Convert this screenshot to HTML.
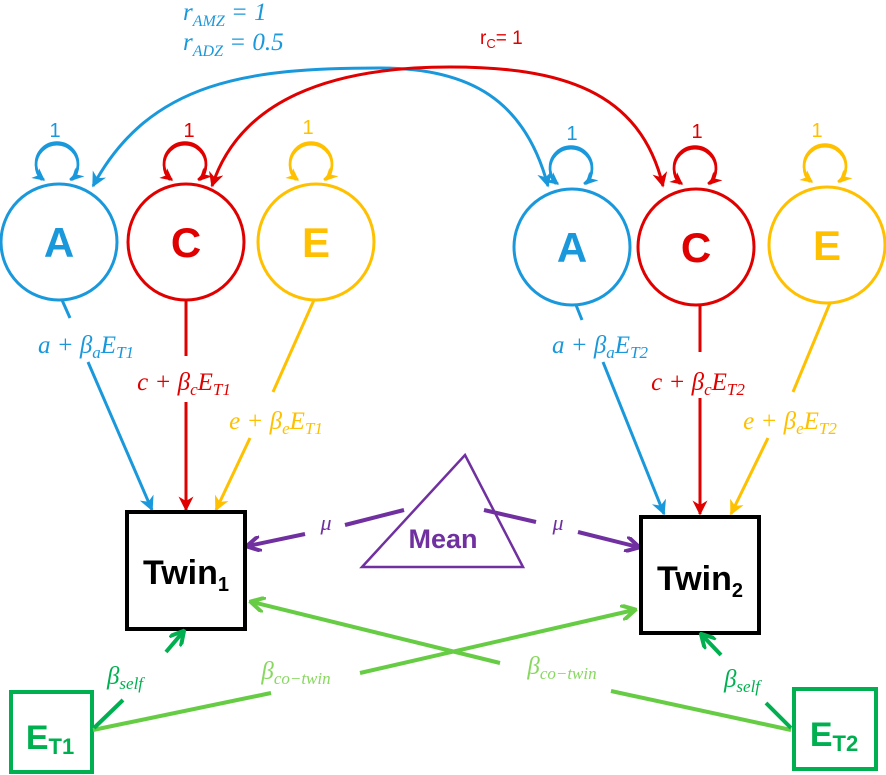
<!DOCTYPE html>
<html><head><meta charset="utf-8"><style>body{margin:0;background:#fff}svg{display:block}</style></head><body>
<svg width="886" height="775" viewBox="0 0 886 775" xmlns="http://www.w3.org/2000/svg">
<defs>
<marker id="mb" viewBox="0 0 10 10" refX="9" refY="5" markerWidth="5" markerHeight="5" orient="auto-start-reverse"><path d="M0,0 L10,5 L0,10 L3,5z" fill="#1a98dc"/></marker>
<marker id="mr" viewBox="0 0 10 10" refX="9" refY="5" markerWidth="5" markerHeight="5" orient="auto-start-reverse"><path d="M0,0 L10,5 L0,10 L3,5z" fill="#e00000"/></marker>
<marker id="my" viewBox="0 0 10 10" refX="9" refY="5" markerWidth="5" markerHeight="5" orient="auto"><path d="M0,0 L10,5 L0,10 L3,5z" fill="#ffc000"/></marker>
<marker id="op" viewBox="0 0 10 10" refX="8" refY="5" markerWidth="4" markerHeight="4" orient="auto"><path d="M0,0 L9,5 L0,10" fill="none" stroke="#7030a0" stroke-width="2.5"/></marker>
<marker id="og" viewBox="0 0 10 10" refX="8" refY="5" markerWidth="4" markerHeight="4" orient="auto"><path d="M0,0 L9,5 L0,10" fill="none" stroke="#66cc44" stroke-width="2.5"/></marker>
<marker id="od" viewBox="0 0 10 10" refX="8" refY="5" markerWidth="4" markerHeight="4" orient="auto"><path d="M0,0 L9,5 L0,10" fill="none" stroke="#00b050" stroke-width="2.5"/></marker>
</defs>
<g font-family="Liberation Serif, serif" font-style="italic" font-size="25">
<text x="183" y="20" fill="#1a98dc">r<tspan font-size="16" dy="6">AMZ</tspan><tspan dy="-6"> = 1</tspan></text>
<text x="183" y="50" fill="#1a98dc">r<tspan font-size="16" dy="6">ADZ</tspan><tspan dy="-6"> = 0.5</tspan></text>
</g>
<text x="480" y="44" font-family="Liberation Sans, sans-serif" font-size="19" fill="#e00000">r<tspan font-size="13" dy="4">C</tspan><tspan dy="-4">= 1</tspan></text>
<g font-family="Liberation Sans, sans-serif" font-size="20" text-anchor="middle">
<text x="55" y="137" fill="#1a98dc">1</text><text x="189" y="137" fill="#e00000">1</text><text x="308" y="134" fill="#ffc000">1</text>
<text x="572" y="140" fill="#1a98dc">1</text><text x="697" y="138" fill="#e00000">1</text><text x="817" y="137" fill="#ffc000">1</text>
</g>
<g fill="none" stroke-width="3">
<path d="M93,186 C150,80 250,68 380,68 C470,68 525,100 548,186" stroke="#1a98dc" marker-start="url(#mb)" marker-end="url(#mb)"/>
<path d="M212,186 C240,100 330,67 450,67 C560,67 640,90 663,186" stroke="#e00000" marker-start="url(#mr)" marker-end="url(#mr)"/>
</g>
<g fill="none" stroke-width="2.5">
<path d="M42,180 A21,21 0 1 1 72,180" stroke="#1a98dc" marker-end="url(#mb)"/>
<path d="M70,180 A21,21 0 1 0 44,180" stroke="#1a98dc" marker-end="url(#mb)"/>
<path d="M170,180 A21,21 0 1 1 200,180" stroke="#e00000" marker-end="url(#mr)"/>
<path d="M198,180 A21,21 0 1 0 172,180" stroke="#e00000" marker-end="url(#mr)"/>
<path d="M296,180 A21,21 0 1 1 326,180" stroke="#ffc000" marker-end="url(#my)"/>
<path d="M324,180 A21,21 0 1 0 298,180" stroke="#ffc000" marker-end="url(#my)"/>
<path d="M556,184 A21,21 0 1 1 586,184" stroke="#1a98dc" marker-end="url(#mb)"/>
<path d="M584,184 A21,21 0 1 0 558,184" stroke="#1a98dc" marker-end="url(#mb)"/>
<path d="M680,184 A21,21 0 1 1 710,184" stroke="#e00000" marker-end="url(#mr)"/>
<path d="M708,184 A21,21 0 1 0 682,184" stroke="#e00000" marker-end="url(#mr)"/>
<path d="M810,182 A21,21 0 1 1 840,182" stroke="#ffc000" marker-end="url(#my)"/>
<path d="M838,182 A21,21 0 1 0 812,182" stroke="#ffc000" marker-end="url(#my)"/>
</g>
<g fill="none" stroke-width="3">
<circle cx="59" cy="242" r="58" stroke="#1a98dc"/>
<circle cx="186" cy="242" r="58" stroke="#e00000"/>
<circle cx="316" cy="242" r="58" stroke="#ffc000"/>
<circle cx="572" cy="247" r="58" stroke="#1a98dc"/>
<circle cx="696" cy="247" r="58" stroke="#e00000"/>
<circle cx="827" cy="245" r="58" stroke="#ffc000"/>
</g>
<g font-family="Liberation Sans, sans-serif" font-weight="bold" font-size="42" text-anchor="middle">
<text x="59" y="257" fill="#1a98dc">A</text>
<text x="186" y="257" fill="#e00000">C</text>
<text x="316" y="257" fill="#ffc000">E</text>
<text x="572" y="262" fill="#1a98dc">A</text>
<text x="696" y="262" fill="#e00000">C</text>
<text x="827" y="260" fill="#ffc000">E</text>
</g>
<g fill="none" stroke-width="3">
<path d="M62,300 L70,318" stroke="#1a98dc"/><path d="M88,362 L152,510" stroke="#1a98dc" marker-end="url(#mb)"/>
<path d="M186,300 L186,356" stroke="#e00000"/><path d="M186,402 L186,510" stroke="#e00000" marker-end="url(#mr)"/>
<path d="M314,300 L273,392" stroke="#ffc000"/><path d="M250,438 L216,510" stroke="#ffc000" marker-end="url(#my)"/>
<path d="M576,305 L582,320" stroke="#1a98dc"/><path d="M603,362 L664,514" stroke="#1a98dc" marker-end="url(#mb)"/>
<path d="M700,305 L700,352" stroke="#e00000"/><path d="M700,398 L700,514" stroke="#e00000" marker-end="url(#mr)"/>
<path d="M830,303 L793,392" stroke="#ffc000"/><path d="M768,438 L731,514" stroke="#ffc000" marker-end="url(#my)"/>
</g>
<g font-family="Liberation Serif, serif" font-style="italic" font-size="25" text-anchor="middle">
<text x="86" y="353" fill="#1a98dc">a + β<tspan font-size="17" dy="5">a</tspan><tspan dy="-5">E</tspan><tspan font-size="17" dy="5">T1</tspan></text>
<text x="184" y="390" fill="#e00000">c + β<tspan font-size="17" dy="5">c</tspan><tspan dy="-5">E</tspan><tspan font-size="17" dy="5">T1</tspan></text>
<text x="276" y="429" fill="#ffc000">e + β<tspan font-size="17" dy="5">e</tspan><tspan dy="-5">E</tspan><tspan font-size="17" dy="5">T1</tspan></text>
<text x="600" y="353" fill="#1a98dc">a + β<tspan font-size="17" dy="5">a</tspan><tspan dy="-5">E</tspan><tspan font-size="17" dy="5">T2</tspan></text>
<text x="698" y="390" fill="#e00000">c + β<tspan font-size="17" dy="5">c</tspan><tspan dy="-5">E</tspan><tspan font-size="17" dy="5">T2</tspan></text>
<text x="790" y="429" fill="#ffc000">e + β<tspan font-size="17" dy="5">e</tspan><tspan dy="-5">E</tspan><tspan font-size="17" dy="5">T2</tspan></text>
</g>
<path d="M465,455 L523,567 L362,567 Z" fill="#fff" stroke="#7030a0" stroke-width="2.5"/>
<text x="443" y="548" font-family="Liberation Sans, sans-serif" font-weight="bold" font-size="27" fill="#7030a0" text-anchor="middle">Mean</text>
<g fill="none" stroke="#7030a0" stroke-width="4">
<path d="M404,510 L345,525"/><path d="M305,534 L248,546" marker-end="url(#op)"/>
<path d="M484,510 L536,522"/><path d="M578,532 L638,547" marker-end="url(#op)"/>
</g>
<g font-family="Liberation Serif, serif" font-style="italic" font-size="22" fill="#7030a0" text-anchor="middle">
<text x="326" y="530">μ</text><text x="558" y="530">μ</text>
</g>
<rect x="127" y="512" width="118" height="117" fill="none" stroke="#000" stroke-width="4"/>
<rect x="641" y="517" width="118" height="116" fill="none" stroke="#000" stroke-width="4"/>
<text x="186" y="584" font-family="Liberation Sans, sans-serif" font-weight="bold" font-size="34" text-anchor="middle">Twin<tspan font-size="20" dy="7">1</tspan></text>
<text x="700" y="590" font-family="Liberation Sans, sans-serif" font-weight="bold" font-size="34" text-anchor="middle">Twin<tspan font-size="20" dy="7">2</tspan></text>
<rect x="11" y="692" width="81" height="80" fill="none" stroke="#00b050" stroke-width="4"/>
<rect x="794" y="689" width="82" height="80" fill="none" stroke="#00b050" stroke-width="4"/>
<text x="50" y="749" font-family="Liberation Sans, sans-serif" font-weight="bold" font-size="34" fill="#00b050" text-anchor="middle">E<tspan font-size="22" dy="5">T1</tspan></text>
<text x="834" y="746" font-family="Liberation Sans, sans-serif" font-weight="bold" font-size="34" fill="#00b050" text-anchor="middle">E<tspan font-size="22" dy="5">T2</tspan></text>
<g fill="none" stroke-width="4">
<path d="M93,730 L271,693" stroke="#66cc44"/><path d="M360,673 L634,610" stroke="#66cc44" marker-end="url(#og)"/>
<path d="M791,730 L611,691" stroke="#66cc44"/><path d="M500,663 L252,602" stroke="#66cc44" marker-end="url(#og)"/>
<path d="M94,728 L123,700" stroke="#00b050"/><path d="M166,652 L183,632" stroke="#00b050" marker-end="url(#od)"/>
<path d="M791,728 L766,703" stroke="#00b050"/><path d="M721,655 L702,635" stroke="#00b050" marker-end="url(#od)"/>
</g>
<g font-family="Liberation Serif, serif" font-style="italic" font-size="25" text-anchor="middle">
<text x="125" y="684" fill="#00b050">β<tspan font-size="17" dy="5">self</tspan></text>
<text x="742" y="687" fill="#00b050">β<tspan font-size="17" dy="5">self</tspan></text>
<text x="296" y="679" fill="#88d860">β<tspan font-size="17" dy="5">co−twin</tspan></text>
<text x="562" y="674" fill="#88d860">β<tspan font-size="17" dy="5">co−twin</tspan></text>
</g>
</svg>
</body></html>
